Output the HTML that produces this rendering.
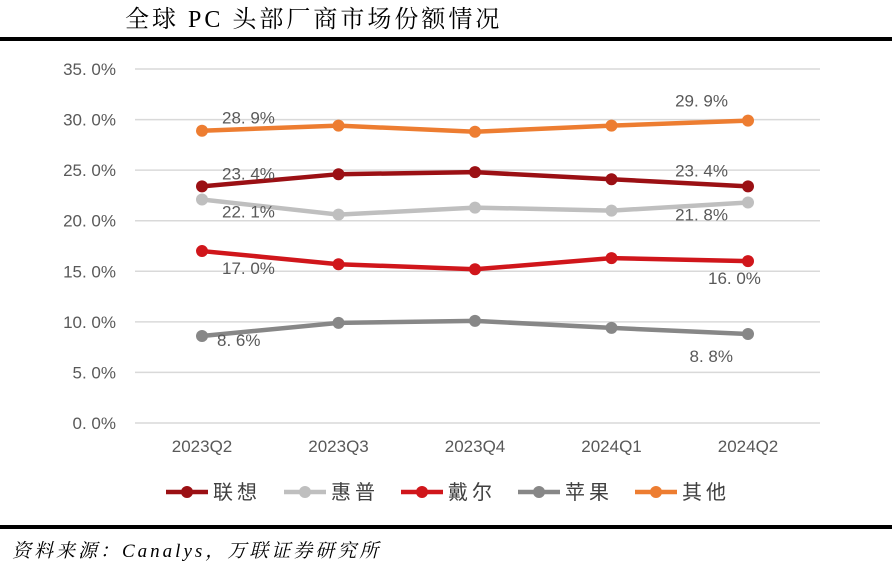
<!DOCTYPE html>
<html><head><meta charset="utf-8"><style>
body{margin:0;background:#fff;width:892px;height:565px;overflow:hidden;font-family:"Liberation Sans","Noto Sans CJK SC",sans-serif}
</style></head><body>
<svg id="c" width="892" height="565" xmlns="http://www.w3.org/2000/svg">
<text x="125" y="27" font-family="'Liberation Serif','Noto Serif CJK SC',serif" font-size="24" letter-spacing="3" fill="#000">全球 PC 头部厂商市场份额情况</text>
<rect x="0" y="37" width="892" height="4" fill="#000"/>
<rect x="0" y="525" width="892" height="4" fill="#000"/>
<text x="12" y="557" font-family="'Liberation Serif','Noto Serif CJK SC',serif" font-style="italic" font-size="19" letter-spacing="3" fill="#000">资料来源：Canalys，万联证券研究所</text>
<g id="grid"></g><g id="lines"></g><g id="legend"></g>
</svg>
<script>
const categories=["2023Q2","2023Q3","2023Q4","2024Q1","2024Q2"];
const seriesNames=["联想","惠普","戴尔","苹果","其他"];
const lenovo=[23.4,24.6,24.8,24.1,23.4];
const hp=[22.1,20.6,21.3,21.0,21.8];
const dell=[17.0,15.7,15.2,16.3,16.0];
const apple=[8.6,9.9,10.1,9.4,8.8];
const others=[28.9,29.4,28.8,29.4,29.9];
const yTicks=[0,5,10,15,20,25,30,35];
const colors=["#9b1014","#bfbfbf","#d0161b","#878787","#ed7d31"];
const NS="http://www.w3.org/2000/svg";
const x=i=>202+i*136.5, y=v=>423-v*10.114;
function mk(t,a,p){const e=document.createElementNS(NS,t);for(const k in a)e.setAttribute(k,a[k]);p.appendChild(e);return e;}
const grid=document.getElementById('grid');
yTicks.forEach(t=>{
  const l=mk('line',{x1:135,x2:820,y1:y(t),y2:y(t),stroke:'#d9d9d9','stroke-width':1.5},grid);
  
  
  const tx=mk('text',{x:116,y:y(t)+6,'text-anchor':'end','font-size':17,fill:'#595959'},grid);
  tx.textContent=t.toFixed(1).replace('.','. ')+'%';
  
  
});
categories.forEach((c,i)=>{
  const tx=mk('text',{x:x(i),y:452,'text-anchor':'middle','font-size':17,fill:'#595959'},grid);
  tx.textContent=c;
  
  
});
const data=[lenovo,hp,dell,apple,others];
const g=document.getElementById('lines');
data.forEach((d,s)=>{
  const p=mk('polyline',{points:d.map((v,i)=>x(i)+','+y(v)).join(' '),fill:'none',stroke:colors[s],'stroke-width':4.5},g);
  
  
  d.forEach((v,i)=>{
    const c=mk('circle',{cx:x(i),cy:y(v),r:6,fill:colors[s]},g);
    
    
  });
});
const labels=[[0,0,20,-7],[0,4,-20,-10],[1,0,20,18],[1,4,-20,18],[2,0,20,23],[2,4,-40,23],[3,0,15,10],[3,4,-15,28],[4,0,20,-7],[4,4,-20,-14]];
labels.forEach(([s,i,dx,dy])=>{
  const v=data[s][i];
  const t=mk('text',{x:x(i)+dx,y:y(v)+dy,'text-anchor':dx>0?'start':'end','font-size':17,fill:'#595959'},g);
  if(s==2&&i==4)t.setAttribute('text-anchor','start');
  t.textContent=v.toFixed(1).replace('.','. ')+'%';
  
  
});
const lg=document.getElementById('legend');
const lx=[166,284,401,518,635];
seriesNames.forEach((n,s)=>{
  const l=mk('line',{x1:lx[s],x2:lx[s]+42,y1:492,y2:492,stroke:colors[s],'stroke-width':4.5},lg);
  
  
  const c=mk('circle',{cx:lx[s]+21,cy:492,r:6,fill:colors[s]},lg);
  
  
  const t=mk('text',{x:lx[s]+47,y:499,'font-size':20,'letter-spacing':4,fill:'#404040'},lg);
  t.textContent=n;
  
  
});
</script>
</body></html>
